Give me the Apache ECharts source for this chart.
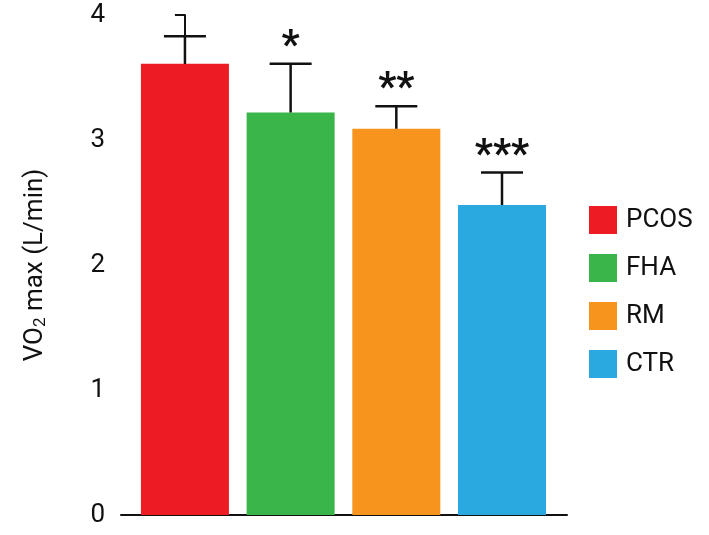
<!DOCTYPE html>
<html><head><meta charset="utf-8">
<script src="https://cdn.jsdelivr.net/npm/echarts@6/dist/echarts.min.js"></script>
<style>html,body{margin:0;background:#fff}#c{width:709px;height:535px}</style>
</head><body><div id="c"></div>
<script>
const groups = ['PCOS', 'FHA', 'RM', 'CTR'];
const means = [3.61, 3.22, 3.09, 2.48];
const upper = [3.83, 3.61, 3.27, 2.74];
const stars = ['', '*', '**', '***'];
const colors = ['#ed1c24', '#39b54a', '#f7941d', '#29a9e0'];
const yTicks = [0, 1, 2, 3, 4];

const font = '"Liberation Sans Narrow", "Roboto", sans-serif';
const chart = echarts.init(document.getElementById('c'));

const barSeries = groups.map((g, i) => ({
  name: g,
  type: 'bar',
  barWidth: 88,
  barGap: '-100%',
  itemStyle: { color: colors[i] },
  data: [[i, means[i]]]
}));

chart.setOption({
  animation: false,
  color: colors,
  grid: { left: 121, right: 142, top: 15, bottom: 20 },
  legend: {
    orient: 'vertical', left: 584, top: 201, itemWidth: 28, itemHeight: 28, itemGap: 20,
    icon: 'rect',
    textStyle: { fontFamily: font, fontSize: 26, color: '#111', padding: [0, 0, 0, 4] },
    data: groups
  },
  xAxis: {
    type: 'value', min: -0.605, max: 3.615,
    axisLine: { show: true, lineStyle: { color: '#111', width: 2 } },
    axisTick: { show: false }, axisLabel: { show: false }, splitLine: { show: false }
  },
  yAxis: {
    type: 'value', min: yTicks[0], max: yTicks[yTicks.length - 1], interval: 1,
    axisLine: { show: true, lineStyle: { color: '#111', width: 2 } },
    axisTick: { show: true, inside: false, length: 10, lineStyle: { width: 2 } },
    axisLabel: { fontFamily: font, fontSize: 26, color: '#111', margin: 16 },
    splitLine: { show: false },
    name: '{a|VO}{s|2}{a| max (L/min)}',
    nameLocation: 'middle', nameGap: 72, nameRotate: 90,
    nameTextStyle: {
      rich: {
        a: { fontFamily: font, fontSize: 26, color: '#111' },
        s: { fontFamily: font, fontSize: 17, color: '#111', verticalAlign: 'bottom', padding: [10, 0, 0, 0] }
      }
    }
  },
  series: barSeries.concat([{
    type: 'custom',
    z: 10,
    data: groups.map((g, i) => [i, means[i], upper[i]]),
    renderItem: (params, api) => {
      const i = api.value(0);
      const base = api.coord([i, api.value(1)]);
      const top = api.coord([i, api.value(2)]);
      const cap = 21;
      return {
        type: 'group',
        children: [
          { type: 'line', shape: { x1: base[0], y1: base[1], x2: base[0], y2: top[1] }, style: { stroke: '#111', lineWidth: 2.5 } },
          { type: 'line', shape: { x1: base[0] - cap, y1: top[1], x2: base[0] + cap, y2: top[1] }, style: { stroke: '#111', lineWidth: 2.5 } },
          { type: 'text', x: base[0], y: top[1] + 4, style: { text: stars[i], fill: '#111', font: 'bold 40px ' + font, textAlign: 'center', textVerticalAlign: 'bottom' } }
        ]
      };
    }
  }])
});
</script></body></html>
